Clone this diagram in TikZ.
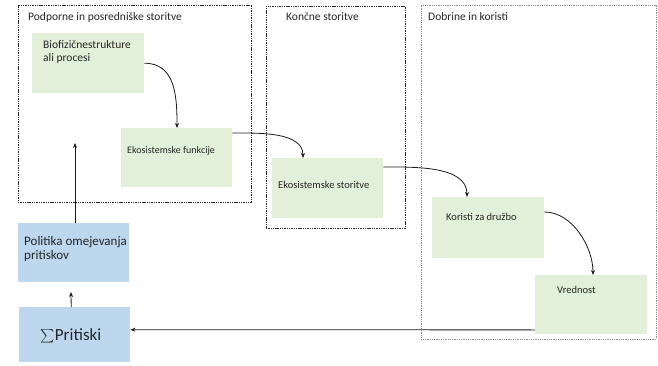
\documentclass[tikz,border=0pt]{standalone}
\usepackage{fontspec}
\setmainfont{Carlito}
\usetikzlibrary{arrows.meta,calc}
\definecolor{gfill}{HTML}{E2EFD9}
\definecolor{bfill}{HTML}{BDD7EE}
\definecolor{txt}{HTML}{262626}
% box text: width, height, top pad, left pad, text
\newcommand{\bx}[5]{\parbox[c][#2][t]{#1}{\vspace*{#3}\hspace*{#4}\parbox[t]{\dimexpr#1-#4\relax}{\raggedright\strut #5}}}
\tikzset{
  frameA/.style={draw=black!85,line width=0.9pt,dash pattern=on 1.4pt off 0.9pt,inner sep=0pt,anchor=north west},
  frameB/.style={draw=black!45,line width=0.5pt,dash pattern=on 1pt off 0.8pt,inner sep=0pt,anchor=north west},
  gbox/.style={fill=gfill,inner sep=0pt,anchor=north west,text=txt},
  bbox/.style={fill=bfill,inner sep=0pt,anchor=north west,text=txt},
  ftitle/.style={anchor=west,inner sep=0pt,text=txt,font=\fontsize{11.5}{13}\selectfont},
  arr/.style={-{Stealth[length=5pt,width=4pt]},line width=0.8pt,black!90},
}
\begin{document}
\begin{tikzpicture}[x=1pt,y=-1pt]
\useasboundingbox (0,0) rectangle (658,366);
% frames
\node[frameA,minimum width=233pt,minimum height=196pt] (f1) at (17.5,5.5) {};
\node[frameA,minimum width=139pt,minimum height=222pt] (f2) at (265.5,6) {};
\node[frameB,minimum width=235pt,minimum height=334pt] (f3) at (421,5) {};
\node[ftitle] (t1) at (28,17) {Podporne in posredniške storitve};
\node[ftitle] (t2) at (286,17) {Končne storitve};
\node[ftitle] (t3) at (428,17) {Dobrine in koristi};
% green boxes
\node[gbox,font=\fontsize{11.5}{13}\selectfont] (bio) at (32,33) {\bx{112pt}{60pt}{6pt}{11pt}{Biofizičnestrukture\\ali procesi}};
\node[gbox,font=\fontsize{10}{12}\selectfont] (fun) at (121,128) {\bx{111pt}{59pt}{16.5pt}{6pt}{Ekosistemske funkcije}};
\node[gbox,font=\fontsize{10.5}{12}\selectfont] (sto) at (272,158) {\bx{111pt}{60pt}{22pt}{6pt}{Ekosistemske storitve}};
\node[gbox,font=\fontsize{10.5}{12}\selectfont] (kor) at (432,197) {\bx{112pt}{61pt}{15pt}{14pt}{Koristi za družbo}};
\node[gbox,font=\fontsize{10.5}{12}\selectfont] (vre) at (535,275) {\bx{112pt}{59pt}{10pt}{22pt}{Vrednost}};
% blue boxes
\node[bbox,font=\fontsize{13}{14.5}\selectfont] (pol) at (18,223) {\bx{111pt}{59pt}{12pt}{6pt}{Politika omejevanja\\pritiskov}};
\node[bbox,font=\fontsize{17}{19}\selectfont] (pri) at (19,307) {\bx{111pt}{55pt}{20pt}{21pt}{\raisebox{-1.5pt}{\scalebox{1.35}{$\sum$}}\kern0.5pt Pritiski}};
% arrows
\coordinate (tipP) at (71,292);
\coordinate (tipF) at (75,143);
\draw[arr] (bio.east) to[out=0,in=90,looseness=1.1] ([xshift=56pt]fun.north west);
\draw[arr] ([yshift=-5pt]fun.north east) to[out=0,in=90,looseness=0.9] ([xshift=31pt]sto.north west);
\draw[arr] ([yshift=-9pt]sto.north east) to[out=0,in=90,looseness=0.9] ([xshift=35pt]kor.north west);
\draw[arr] ([yshift=-15pt]kor.north east) to[out=0,in=90,looseness=0.9] ([xshift=58pt]vre.north west);
\draw[arr] ([yshift=4.5pt]vre.south west) -- ([yshift=5pt]pri.east);
\draw[arr] ([xshift=-3.5pt]pri.north) -- (tipP);
\draw[arr] (pol.north -| tipF) -- (tipF);
\end{tikzpicture}
\end{document}
